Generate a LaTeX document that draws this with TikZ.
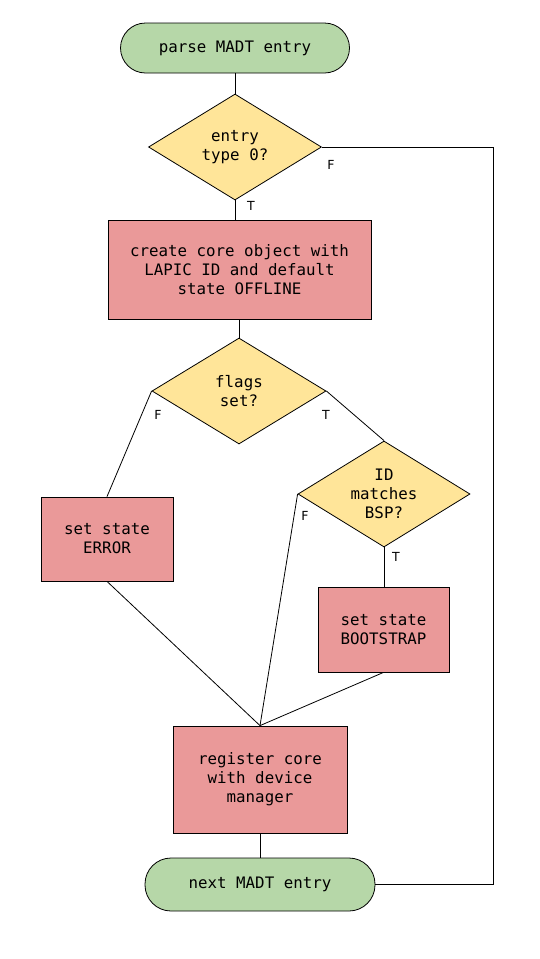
\documentclass[tikz,border=0pt]{standalone}
\usepackage{fontspec}
\setmonofont{DejaVu Sans Mono}
\setsansfont{DejaVu Sans}
\usepackage{tikz}
\usetikzlibrary{shapes.geometric,positioning}
\definecolor{termgreen}{HTML}{B6D7A8}
\definecolor{decyellow}{HTML}{FFE599}
\definecolor{procred}{HTML}{EA9999}

\begin{document}
\begin{tikzpicture}[x=1pt,y=-1pt,line width=0.8pt,
      every node/.style={draw,font=\ttfamily\fontsize{15.8}{19}\selectfont,align=center,inner sep=0pt},
      term/.style={rectangle,rounded corners=25pt,fill=termgreen,minimum width=229pt,minimum height=50pt},
      decision/.style={diamond,fill=decyellow,minimum width=173pt,minimum height=106pt},
      procbox/.style={rectangle,fill=procred},
      branch/.style={draw=none,fill=none,font=\sffamily\fontsize{12.5}{14}\selectfont}]
    \path[use as bounding box] (0,0) rectangle (540,959);
    \node[term] (start) at (235,48) {parse MADT entry};
    \node[decision] (type) at (235,147) {entry\\type 0?};
    \node[procbox,minimum width=263pt,minimum height=99pt] (create) at (239.5,269.5)
      {create core object with\\LAPIC ID and default\\state OFFLINE};
    \node[decision,minimum width=174pt] (flags) at (239,391) {flags\\set?};
    \node[procbox,minimum width=132pt,minimum height=84pt] (error) at (107,539) {set state\\ERROR};
    \node[decision,minimum width=172pt,inner sep=-8pt] (bsp) at (384,494) {ID\\matches\\BSP?};
    \node[procbox,minimum width=131pt,minimum height=85pt] (boot) at (383.5,629.5) {set state\\BOOTSTRAP};
    \node[procbox,minimum width=174pt,minimum height=107pt] (register) at (260,779.5)
      {register core\\with device\\manager};
    \node[term,minimum width=230pt,minimum height=53pt,rounded corners=26pt] (next) at (260,884.5) {next MADT entry};
    \coordinate (loop) at (493,147);

    \draw (start) -- (type);
    \draw (type.south) -- (type.south |- create.north);
    \draw (create.south -| flags.north) -- (flags.north);
    \draw (flags.west) -- (error.north);
    \draw (flags.east) -- (bsp.north);
    \draw (bsp.west) -- (register.north);
    \draw (bsp.south) -- (bsp.south |- boot.north);
    \draw (boot.south) -- (register.north);
    \draw (error.south) -- (register.north);
    \draw (register) -- (next);
    \draw (next.east) -| (loop) -- (type.east);

    \node[branch] (t1) at (251,206) {T};
    \node[branch] (f1) at (331,165) {F};
    \node[branch] (f2) at (158,415) {F};
    \node[branch] (t2) at (326,415) {T};
    \node[branch] (f3) at (305,516) {F};
    \node[branch] (t3) at (396,557) {T};
  \end{tikzpicture}
\end{document}
